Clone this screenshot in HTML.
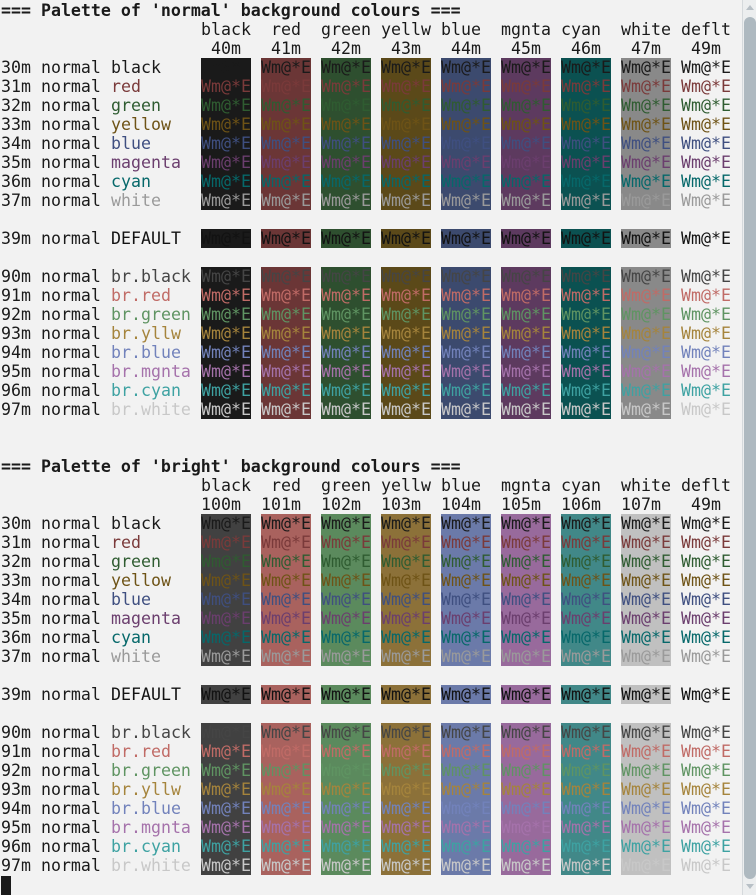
<!DOCTYPE html>
<html><head><meta charset="utf-8">
<style>
html,body{margin:0;padding:0;background:#f2f2f2;width:756px;height:895px;overflow:hidden;}
#term{position:absolute;left:1px;top:1px;width:741px;height:894px;font-family:"DejaVu Sans Mono","Liberation Mono",monospace;font-size:16.6px;line-height:19px;color:#1a1a1a;}
.ln{position:absolute;left:0;height:19px;white-space:pre;}
.cell{position:absolute;height:19px;width:50px;white-space:pre;}
#sb{position:absolute;left:742px;top:0;width:14px;height:895px;background:#eceeef;border-left:1px solid #d5d9dc;box-sizing:border-box;}
#thumb{position:absolute;left:1px;top:17px;width:12px;height:862px;background:#aeb9c0;border-radius:6px;}
</style></head>
<body>
<div id="term"></div>
<div id="sb">
  <div style="position:absolute;left:3px;top:5px;width:0;height:0;border-left:4px solid transparent;border-right:4px solid transparent;border-bottom:5px solid #b8c0c6;"></div>
  <div id="thumb"></div>
  <div style="position:absolute;left:3px;top:884px;width:0;height:0;border-left:4px solid transparent;border-right:4px solid transparent;border-top:5px solid #b8c0c6;"></div>
</div>
<div style="position:absolute;left:1px;top:876px;width:10px;height:19px;background:#1a1a1a;"></div>
<script>
const colNames = ["black","red","green","yellw","blue","mgnta","cyan","white","deflt"];
const normalCodes = ["40m","41m","42m","43m","44m","45m","46m","47m","49m"];
const brightCodes = ["100m","101m","102m","103m","104m","105m","106m","107m","49m"];
const normalBg = ["#1a1a1a","#6b3636","#2e4f2f","#5b4919","#3c4a6e","#5d3a5f","#0b5151","#898989",null];
const brightBg = ["#414141","#a9625e","#5b8a5d","#8c7139","#6b7aa9","#986a9c","#418888","#c0c0c0",null];
const rowCodes = ["30m","31m","32m","33m","34m","35m","36m","37m",null,"39m",null,"90m","91m","92m","93m","94m","95m","96m","97m"];
const rowNames = ["black","red","green","yellow","blue","magenta","cyan","white",null,"DEFAULT",null,"br.black","br.red","br.green","br.yllw","br.blue","br.mgnta","br.cyan","br.white"];
const rowFg = ["#1a1a1a","#7a3a3a","#2f5c31","#6e5316","#3f4f80","#6b3e6e","#06686a","#9a9a9a",null,"#121212",null,"#454545","#c06b66","#5f9462","#a5843c","#7282bb","#a572ab","#3ea2a2","#c8c8c8"];
const CW = 10, LH = 19;
const term = document.getElementById('term');
function line(row, text, col, bold, color){
  const d = document.createElement('div');
  d.className='ln';
  d.style.top=(row*LH)+'px';
  d.style.left=(col*CW)+'px';
  if(bold) d.style.fontWeight='bold';
  if(color) d.style.color=color;
  d.textContent=text;
  term.appendChild(d);
  return d;
}
function section(startRow, title, codes, bgs, tag){
  const t = line(startRow, title, 0, true);
  
  
  const nameCols=[20,27,32,38,44,50,56,62,68];
  colNames.forEach((n,k)=>{
    const h = line(startRow+1, n, nameCols[k]);
    
    
    const c = codes[k];
    const e = line(startRow+2, c, k===8?69:(c.length===3?21+6*k:20+6*k));
    
    
  });
  rowCodes.forEach((code,i)=>{
    if(code===null) return;
    const r = startRow+3+i;
    const lab = line(r, code+" normal ", 0);
    
    
    const nm = line(r, rowNames[i], 11, false, rowFg[i]);
    
    
    for(let k=0;k<9;k++){
      const c = document.createElement('div');
      c.className='cell';
      c.style.top=(r*LH)+'px';
      c.style.left=((k===8?68:20+6*k)*CW)+'px';
      if(bgs[k]) c.style.background=bgs[k];
      c.style.color=rowFg[i];
      c.textContent="Wm@*E";
      
      
      term.appendChild(c);
    }
  });
}
section(0, "=== Palette of 'normal' background colours ===", normalCodes, normalBg, 'normal');
section(24, "=== Palette of 'bright' background colours ===", brightCodes, brightBg, 'bright');
</script>
</body></html>
